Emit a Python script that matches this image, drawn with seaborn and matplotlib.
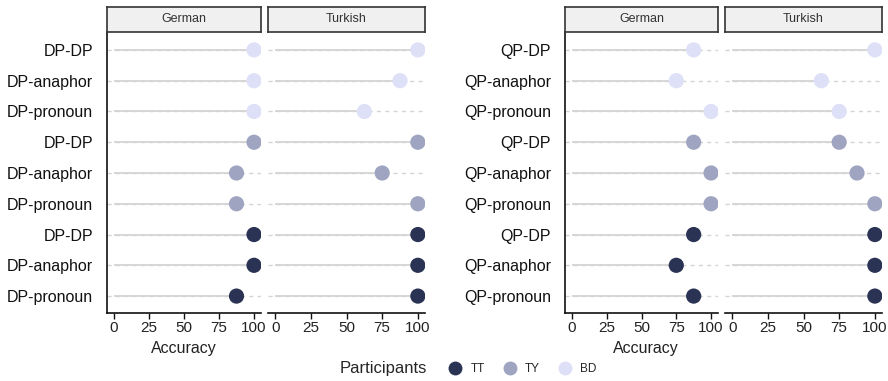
import matplotlib
matplotlib.use("Agg")
import matplotlib.pyplot as plt
from matplotlib.lines import Line2D
from matplotlib.offsetbox import HPacker
import seaborn as sns
import pandas as pd

sns.set_theme(style="white")
plt.rcParams['font.family'] = ['Liberation Sans', 'DejaVu Sans']

participants = ["BD", "TY", "TT"]
dp_conditions = ["DP-DP", "DP-anaphor", "DP-pronoun"]
qp_conditions = ["QP-DP", "QP-anaphor", "QP-pronoun"]
languages = ["German", "Turkish"]

# values per participant group (BD, TY, TT) in condition order
dp_german = {"BD": [100, 100, 100], "TY": [100, 87.5, 87.5], "TT": [100, 100, 87.5]}
dp_turkish = {"BD": [100, 87.5, 62.5], "TY": [100, 75, 100], "TT": [100, 100, 100]}
qp_german = {"BD": [87.5, 75, 100], "TY": [87.5, 100, 100], "TT": [87.5, 75, 87.5]}
qp_turkish = {"BD": [100, 62.5, 75], "TY": [75, 87.5, 100], "TT": [100, 100, 100]}

palette = {"TT": "#2b3354", "TY": "#9fa4c0", "BD": "#dde0f7"}
legend_order = ["TT", "TY", "BD"]


def make_df(vals, conds):
    rows = []
    pos = 0
    for p in participants:
        for c, v in zip(conds, vals[p]):
            rows.append({"Participants": p, "cond": c, "row": pos, "Accuracy": v})
            pos += 1
    return pd.DataFrame(rows)


W, H = 888, 381
fig = plt.figure(figsize=(W / 100, H / 100), dpi=100)


def ax_at(x0, x1, y0, y1):
    return fig.add_axes([x0 / W, 1 - y1 / H, (x1 - x0) / W, (y1 - y0) / H])


panels = [
    (107, 261, dp_german, dp_conditions, languages[0], True),
    (268, 425, dp_turkish, dp_conditions, languages[1], False),
    (565, 718, qp_german, qp_conditions, languages[0], True),
    (725, 882, qp_turkish, qp_conditions, languages[1], False),
]

top, bottom = 33, 313
for x0, x1, vals, conds, lang, first in panels:
    ax = ax_at(x0, x1, top, bottom)
    df = make_df(vals, conds)
    ax.set_xlim(-5, 105)
    ax.set_ylim(8.55, -0.55)
    for r in df["row"]:
        ax.axhline(r, color="#d4d4d4", lw=1.0, ls=(0, (3, 3)), zorder=0)
    ax.hlines(df["row"], 0, df["Accuracy"], color="#d4d4d4", lw=1.3, zorder=1)
    sns.scatterplot(data=df, x="Accuracy", y="row", hue="Participants", palette=palette,
                    s=120, edgecolor="none", legend=False, ax=ax, zorder=3)
    ax.set_xticks([0, 25, 50, 75, 100])
    ax.set_xticklabels(["0", "25", "50", "75", "100"])
    ax.set_yticks(df["row"])
    if first:
        ax.set_yticklabels(df["cond"], fontsize=11.5, color="#111111")
    else:
        ax.set_yticklabels([])
        ax.tick_params(axis="y", length=0)
    ax.set_xlabel("")
    ax.set_ylabel("")
    for s in ["top", "right"]:
        ax.spines[s].set_visible(False)
    ax.spines["left"].set_visible(first)
    ax.spines["left"].set_color("#111111")
    ax.spines["bottom"].set_color("#111111")
    ax.spines["left"].set_linewidth(1.2)
    ax.spines["bottom"].set_linewidth(1.2)
    ax.tick_params(axis="x", length=4, width=1, color="#111111", labelsize=11, labelcolor="#222222", pad=2, bottom=True)
    ax.tick_params(axis="y", left=False, pad=4)
    # strip header
    sax = ax_at(x0, x1, 7, 32)
    sax.set_xlim(0, 1)
    sax.set_ylim(0, 1)
    sax.set_xticks([])
    sax.set_yticks([])
    sax.set_facecolor("#f0f0f0")
    for s in sax.spines.values():
        s.set_color("#333333")
        s.set_linewidth(1.2)
    sax.text(0.5, 0.5, lang, ha="center", va="center", fontsize=9, color="#333333")

fig.text(184 / W, 1 - 349 / H, "Accuracy", ha="center", va="center", fontsize=11.5, color="#222222")
fig.text(646 / W, 1 - 349 / H, "Accuracy", ha="center", va="center", fontsize=11.5, color="#222222")

handles = [Line2D([0], [0], marker="o", ls="", markersize=10, markerfacecolor=palette[p],
                  markeredgecolor="none", label=p) for p in legend_order]
leg = fig.legend(handles=handles, title="Participants", loc="center", bbox_to_anchor=(468 / W, 1 - 369 / H),
                 ncol=3, frameon=False, fontsize=8.5, title_fontsize=12, handletextpad=0.3, columnspacing=1.1)
box = leg._legend_box
box.__class__ = HPacker
box.sep = 12
box.align = "center"

fig.savefig("out.png", dpi=100, facecolor="white")
